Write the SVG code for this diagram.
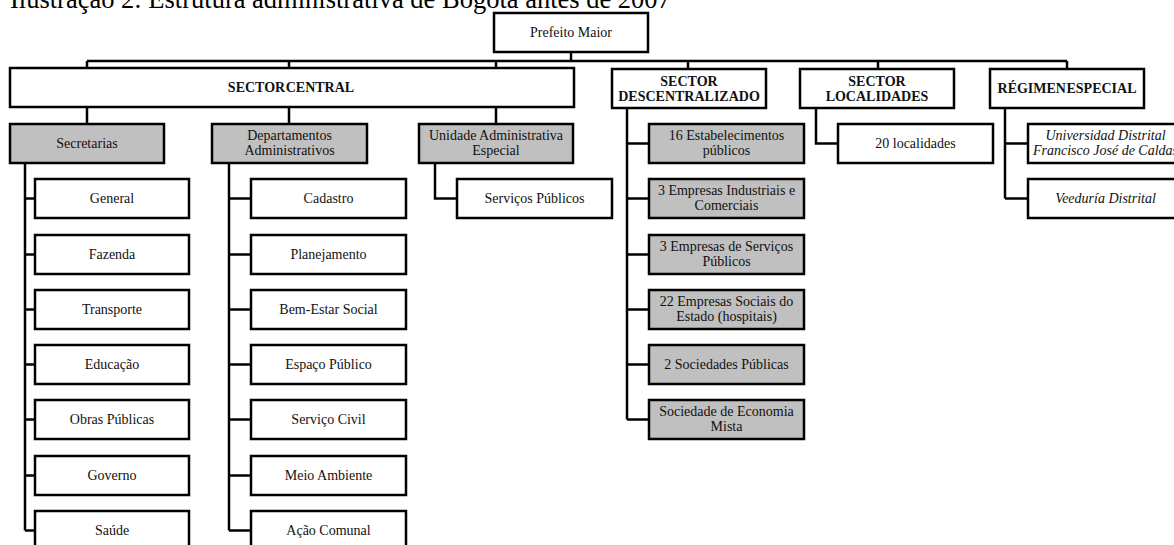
<svg xmlns="http://www.w3.org/2000/svg" width="1174" height="545" viewBox="0 0 1174 545">
  <style>
    .box { fill: #ffffff; stroke: #000000; stroke-width: 2.5; }
    .grey { fill: #c0c0c0; stroke: #000000; stroke-width: 2.5; }
    .wire { fill: none; stroke: #000000; stroke-width: 2.5; }
    text { font-family: "Liberation Serif", "Times New Roman", serif; font-size: 14px; fill: #111111; text-anchor: middle; }
    .head { font-weight: bold; font-size: 14px; word-spacing: -3px; }
    .it { font-style: italic; }
    .title { font-size: 26.5px; text-anchor: start; fill: #000000; }
  </style>

  <rect width="1174" height="545" fill="#ffffff"/>

  <text class="title" x="10" y="8">Ilustração 2: Estrutura administrativa de Bogotá antes de 2007</text>

  <!-- connectors -->
  <g id="connectors" class="wire">
    <path d="M571 52V61M87 61H1067"/>
    <path d="M87 61V68M289 61V68M496 61V68M688 61V69M878 61V69M1067 61V69"/>
    <path d="M87 107V124M289 107V124M496 107V124"/>
    <!-- Secretarias -->
    <path d="M25 163V530.5M25 198.5H35M25 254.5H35M25 309.5H35M25 364.5H35M25 419.5H35M25 475.5H35M25 530.5H35"/>
    <!-- Departamentos Administrativos -->
    <path d="M229 163V530.5M229 198.5H251M229 254.5H251M229 309.5H251M229 364.5H251M229 419.5H251M229 475.5H251M229 530.5H251"/>
    <!-- Unidade Administrativa Especial -->
    <path d="M435 163V198.5H457"/>
    <!-- Sector Descentralizado -->
    <path d="M627 108V419.5M627 143.5H649M627 198.5H649M627 254.5H649M627 309.5H649M627 364.5H649M627 419.5H649"/>
    <!-- Sector Localidades -->
    <path d="M816 108V143.5H838"/>
    <!-- Régimen Especial -->
    <path d="M1005 108V198.5M1005 143.5H1028M1005 198.5H1028"/>
  </g>

  <g id="prefeito">
    <rect class="box" x="494" y="13" width="154" height="39"/>
    <text x="571" y="37">Prefeito Maior</text>
  </g>

  <g id="sector-central">
    <rect class="box" x="10" y="68" width="564" height="39"/>
    <text class="head" x="291" y="92">SECTOR CENTRAL</text>
  </g>
  <g id="sector-descentralizado">
    <rect class="box" x="612" y="69" width="154" height="39"/>
    <text class="head" x="689" y="85.5">SECTOR</text>
    <text class="head" x="689" y="100.5">DESCENTRALIZADO</text>
  </g>
  <g id="sector-localidades">
    <rect class="box" x="800" y="69" width="154" height="39"/>
    <text class="head" x="877" y="85.5">SECTOR</text>
    <text class="head" x="877" y="100.5">LOCALIDADES</text>
  </g>
  <g id="regimen-especial">
    <rect class="box" x="990" y="69" width="154" height="39"/>
    <text class="head" x="1067" y="93">RÉGIMEN ESPECIAL</text>
  </g>

  <!-- Sector central branches -->
  <g id="secretarias">
    <rect class="grey" x="10" y="124" width="154" height="39"/>
    <text x="87" y="148">Secretarias</text>
  </g>
  <g id="departamentos">
    <rect class="grey" x="212" y="124" width="155" height="39"/>
    <text x="289.5" y="140">Departamentos</text>
    <text x="289.5" y="154.5">Administrativos</text>
  </g>
  <g id="unidade">
    <rect class="grey" x="419" y="124" width="154" height="39"/>
    <text x="496" y="140">Unidade Administrativa</text>
    <text x="496" y="154.5">Especial</text>
  </g>

  <g id="sec-general"><rect class="box" x="35" y="179" width="154" height="39"/><text x="112" y="203">General</text></g>
  <g id="sec-fazenda"><rect class="box" x="35" y="235" width="154" height="39"/><text x="112" y="259">Fazenda</text></g>
  <g id="sec-transporte"><rect class="box" x="35" y="290" width="154" height="39"/><text x="112" y="314">Transporte</text></g>
  <g id="sec-educacao"><rect class="box" x="35" y="345" width="154" height="39"/><text x="112" y="369">Educação</text></g>
  <g id="sec-obras"><rect class="box" x="35" y="400" width="154" height="39"/><text x="112" y="424">Obras Públicas</text></g>
  <g id="sec-governo"><rect class="box" x="35" y="456" width="154" height="39"/><text x="112" y="480">Governo</text></g>
  <g id="sec-saude"><rect class="box" x="35" y="511" width="154" height="39"/><text x="112" y="535">Saúde</text></g>

  <g id="dep-cadastro"><rect class="box" x="251" y="179" width="155" height="39"/><text x="328.5" y="203">Cadastro</text></g>
  <g id="dep-planejamento"><rect class="box" x="251" y="235" width="155" height="39"/><text x="328.5" y="259">Planejamento</text></g>
  <g id="dep-bemestar"><rect class="box" x="251" y="290" width="155" height="39"/><text x="328.5" y="314">Bem-Estar Social</text></g>
  <g id="dep-espaco"><rect class="box" x="251" y="345" width="155" height="39"/><text x="328.5" y="369">Espaço Público</text></g>
  <g id="dep-servico"><rect class="box" x="251" y="400" width="155" height="39"/><text x="328.5" y="424">Serviço Civil</text></g>
  <g id="dep-meio"><rect class="box" x="251" y="456" width="155" height="39"/><text x="328.5" y="480">Meio Ambiente</text></g>
  <g id="dep-acao"><rect class="box" x="251" y="511" width="155" height="39"/><text x="328.5" y="535">Ação Comunal</text></g>

  <g id="uae-servicos"><rect class="box" x="457" y="179" width="155" height="39"/><text x="534.5" y="203">Serviços Públicos</text></g>

  <!-- Sector descentralizado entities -->
  <g id="desc-estabelecimentos"><rect class="grey" x="649" y="124" width="155" height="39"/><text x="726.5" y="140">16 Estabelecimentos</text><text x="726.5" y="154.5">públicos</text></g>
  <g id="desc-industriais"><rect class="grey" x="649" y="179" width="155" height="39"/><text x="726.5" y="195">3 Empresas Industriais e</text><text x="726.5" y="209.5">Comerciais</text></g>
  <g id="desc-servicos"><rect class="grey" x="649" y="235" width="155" height="39"/><text x="726.5" y="251">3 Empresas de Serviços</text><text x="726.5" y="265.5">Públicos</text></g>
  <g id="desc-sociais"><rect class="grey" x="649" y="290" width="155" height="39"/><text x="726.5" y="306">22 Empresas Sociais do</text><text x="726.5" y="320.5">Estado (hospitais)</text></g>
  <g id="desc-sociedades"><rect class="grey" x="649" y="345" width="155" height="39"/><text x="726.5" y="369">2 Sociedades Públicas</text></g>
  <g id="desc-mista"><rect class="grey" x="649" y="400" width="155" height="39"/><text x="726.5" y="416">Sociedade de Economia</text><text x="726.5" y="430.5">Mista</text></g>

  <g id="loc-localidades"><rect class="box" x="838" y="124" width="155" height="39"/><text x="915.5" y="148">20 localidades</text></g>

  <g id="reg-universidad"><rect class="box" x="1028" y="124" width="155" height="39"/><text class="it" x="1105.5" y="140">Universidad Distrital</text><text class="it" x="1105.5" y="154.5">Francisco José de Caldas</text></g>
  <g id="reg-veeduria"><rect class="box" x="1028" y="179" width="155" height="39"/><text class="it" x="1105.5" y="203">Veeduría Distrital</text></g>
</svg>
